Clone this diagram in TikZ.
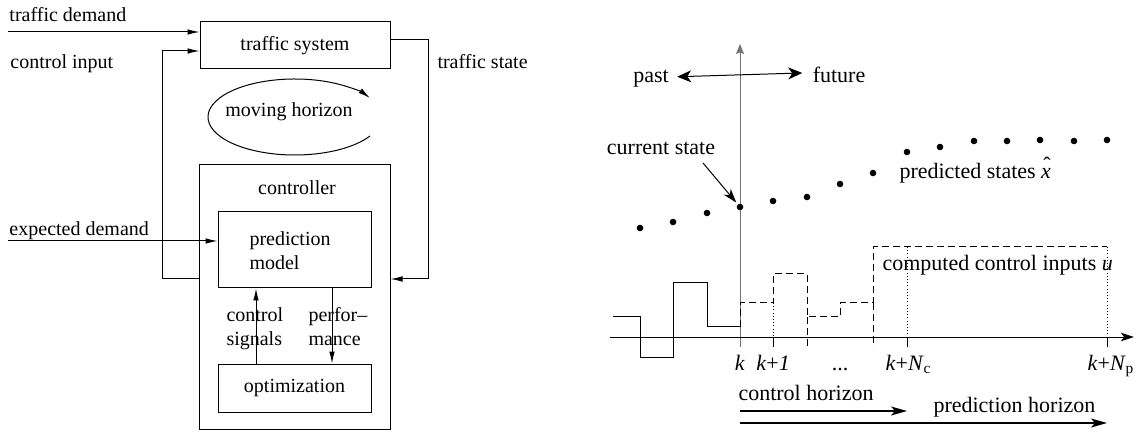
\documentclass[tikz,border=0pt]{standalone}
\usepackage{fontspec}
\setmainfont{Liberation Serif}
\usetikzlibrary{arrows.meta}
% italic x with a circumflex set above it
\newcommand\predhat{\makebox[0pt][l]{\hspace{0.1em}\raisebox{0.3em}{\char"02C6}}\textit{x}}
\begin{document}
\begin{tikzpicture}[x=0.5pt, y=-0.5pt, line width=0.5pt, line join=miter,
  box/.style={draw, rectangle, inner sep=0pt},
  lbl/.style={inner sep=0pt, font=\fontsize{10}{12}\selectfont},
  rlbl/.style={inner sep=0pt, font=\fontsize{11}{13.2}\selectfont},
  arr/.style={-{Latex[length=6pt,width=2.8pt]}},
  dot/.style={circle, fill, inner sep=0pt, minimum size=3.3pt},
  dashline/.style={dash pattern=on 3.5pt off 2pt},
  dotline/.style={dash pattern=on 0.5pt off 1.1pt},
  pfarr/.style={{Stealth[length=7pt,width=6pt,inset=2pt]}-{Stealth[length=7pt,width=6pt,inset=2pt]}},
  axarr/.style={-{Stealth[length=6.5pt,width=4.2pt,inset=1.5pt]}},
  vaxarr/.style={-{Stealth[length=5pt,width=4pt,inset=0.8pt]}, draw=black!55},
  hzarr/.style={line width=0.6pt, -{Stealth[length=8pt,width=4.5pt,inset=2pt]}},
  csarr/.style={-{Stealth[length=7pt,width=4.5pt,inset=2pt]}}
]
\useasboundingbox (0,0) rectangle (1144,432);

% ---------- control loop ----------
\node[box, lbl, minimum width=95pt, minimum height=23.5pt] (ts) at (295,45.5) {traffic system};
\node[box, minimum width=95.5pt, minimum height=132pt] (ctrl) at (294.5,297) {};
\node[lbl, anchor=base] (ctrllbl) at (297,195) {controller};
\node[box, minimum width=76.5pt, minimum height=38pt] (pm) at (294.5,250) {};
\node[lbl, anchor=north west, align=left] (pmlbl) at (249,231) {prediction\\model};
\node[box, lbl, minimum width=76.5pt, minimum height=24pt] (opt) at (294.5,388) {optimization};

\node[lbl, anchor=base west] (tdlbl) at (9,22) {traffic demand};
\node[lbl, anchor=base west] (cilbl) at (10,69) {control input};
\node[lbl, anchor=base west] (tslbl) at (437,69) {traffic state};
\node[lbl, anchor=base west] (edlbl) at (9,236) {expected demand};
\node[lbl, anchor=north west, align=left] (cslbl) at (226,307) {control\\signals};
\node[lbl, anchor=north west, align=left] (pflbl) at (308,307) {perfor--\\mance};
\node[lbl] (mh) at (289,112) {moving horizon};

\coordinate (tdin) at (8,32);
\coordinate (edin) at (8,241);
\draw[arr] (tdin) -- (ts.west |- tdin);
\draw[arr] (ctrl.west |- 0,279) -- (162,279) -- (162,51) -- (ts.west |- 0,51);
\draw[arr] (ts.east |- 0,40) -- (428,40) -- (428,279) -- (ctrl.east |- 0,279);
\draw[arr] (edin) -- (pm.west |- edin);
\draw[arr] (opt.north -| 256,0) -- (pm.south -| 256,0);
\draw[arr] (pm.south -| 332,0) -- (opt.north -| 332,0);

% moving horizon loop
\coordinate (mhc) at (294.8,117);
\draw[arr] (mhc) ++(30:86.8 and 38) arc[start angle=30, end angle=330, x radius=86.8, y radius=38];

% ---------- receding horizon scheme ----------
\coordinate (vbot) at (740,347);
\coordinate (vtop) at (740,44);
\coordinate (tl) at (610,337);
\coordinate (tr) at (1134,337);
\coordinate (tk) at (740,337);
\coordinate (tnc) at (907,337);
\coordinate (tnp) at (1107,337);

\draw[vaxarr] (vbot) -- (vtop);
\draw[axarr] (tl) -- (tr);

\node[rlbl, anchor=base] (past) at (651,83) {past};
\node[rlbl, anchor=base] (future) at (839,83) {future};
\draw[pfarr] ([xshift=4pt,yshift=1.2pt]past.east) -- ([xshift=-5pt,yshift=1.2pt]future.west);

% applied inputs
\draw (613,317) -- (640,317) -- (640,357) -- (673,357) -- (673,283) -- (707,283) -- (707,327) -- (740,327);
% planned inputs
\draw[dashline] (740,327) -- (740,303) -- (773,303) -- (773,274) -- (807,274) -- (807,317)
  -- (840,317) -- (840,303) -- (873,303) -- (873,247) -- (1107,247);
\draw[dashline] (807,317) -- (807,347);
\draw[dashline] (873,303) -- (873,347);
\draw[dotline] (773,303) -- (773,337);
\draw[dotline] (907,247) -- (tnc);
\draw[dotline] (1107,247) -- (tnp);
\draw (773,337) -- (773,347);
\draw (tnc) -- ++(0,10);
\draw (tnp) -- ++(0,10);

% state trajectory
\foreach \px/\py [count=\i] in {640/228, 673/222, 707/213, 740/207, 773/201, 807/197, 840/184,
    873/173, 907/152, 940/147, 974/141, 1007/141, 1040/140, 1074/141, 1107/140}
  \node[dot] (p\i) at (\px,\py) {};

\node[rlbl, anchor=base] (cs) at (661,155) {current state};
\coordinate (csa) at (703,163);
\draw[csarr, shorten >=1pt] (csa) -- (p4);
\node[rlbl, anchor=base west] (psx) at (899,179) {predicted states \predhat};
\node[rlbl, anchor=base west] (ccu) at (882,271) {computed control inputs \textit{u}};

% time labels
\node[rlbl, anchor=base] (lk) at (740,370) {\textit{k}};
\node[rlbl, anchor=base] (lk1) at (773,370) {\textit{k}+\textit{1}};
\node[rlbl, anchor=base] (ldots) at (840,370) {...};
\node[rlbl, anchor=base west] (lknc) at (885,370) {\textit{k}+\textit{N}\textsubscript{c}};
\node[rlbl, anchor=base west] (lknp) at (1087,370) {\textit{k}+\textit{N}\textsubscript{p}};

% horizons
\node[rlbl, anchor=base west] (chl) at (738,400) {control horizon};
\node[rlbl, anchor=base west] (phl) at (933,412) {prediction horizon};
\draw[hzarr] (tk |- 0,411) -- (tnc |- 0,411);
\draw[hzarr] (tk |- 0,423) -- (tnp |- 0,423);
\end{tikzpicture}
\end{document}
